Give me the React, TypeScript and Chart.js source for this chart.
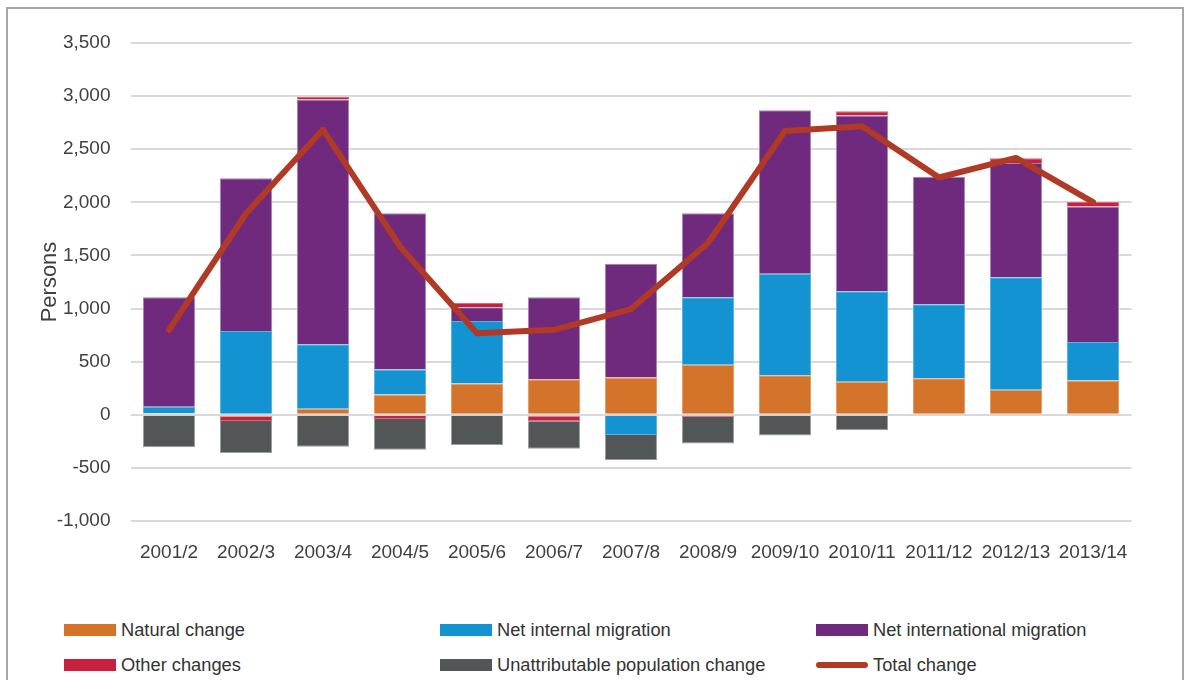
import React, { useEffect, useRef } from "react";
import { Chart, registerables } from "chart.js";

Chart.register(...registerables);

const categories = ["2001/2", "2002/3", "2003/4", "2004/5", "2005/6", "2006/7", "2007/8", "2008/9", "2009/10", "2010/11", "2011/12", "2012/13", "2013/14"];
const naturalChange = [15, -20, 56, 191, 294, 335, 351, 470, 373, 310, 345, 235, 322];
const netInternalMigration = [60, 789, 608, 235, 589, -15, -190, 636, 955, 853, 695, 1059, 364];
const netInternationalMigration = [1031, 1438, 2303, 1472, 129, 771, 1068, 792, 1539, 1654, 1200, 1077, 1275];
const otherChanges = [0, -38, 25, -40, 41, -45, 0, -20, 0, 40, 0, 44, 41];
const unattributableChange = [-305, -302, -300, -290, -285, -260, -236, -250, -195, -145, 0, 0, 0];
const totalChange = [800, 1895, 2685, 1585, 768, 800, 995, 1617, 2672, 2716, 2234, 2418, 2002];
const yTickValues = [-1000, -500, 0, 500, 1000, 1500, 2000, 2500, 3000, 3500];

const FONT = "'Liberation Sans', Arial, sans-serif";
const TEXT = "#404040";

const COLORS = {
  natural: "#D4732A",
  internal: "#1393D1",
  international: "#6F297D",
  other: "#C8203F",
  unattrib: "#525657",
  total: "#B13A26",
};
const BORDERS = {
  natural: "#E59A62",
  internal: "#55B3E0",
  international: "#A783B0",
  other: "#DC6680",
  unattrib: "#9A9D9D",
};

const legendItems = [
  { label: "Natural change", color: COLORS.natural, col: 0, row: 0, line: false },
  { label: "Net internal migration", color: COLORS.internal, col: 1, row: 0, line: false },
  { label: "Net international migration", color: COLORS.international, col: 2, row: 0, line: false },
  { label: "Other changes", color: COLORS.other, col: 0, row: 1, line: false },
  { label: "Unattributable population change", color: COLORS.unattrib, col: 1, row: 1, line: false },
  { label: "Total change", color: COLORS.total, col: 2, row: 1, line: true },
];
const legendCols = [56, 432, 808];
const legendRows = [621, 656];

export default function App() {
  const canvasRef = useRef<HTMLCanvasElement | null>(null);

  useEffect(() => {
    if (!canvasRef.current) return;
    const bar = (label: string, data: number[], key: keyof typeof BORDERS) => ({
      type: "bar" as const,
      label,
      data,
      backgroundColor: COLORS[key],
      borderColor: BORDERS[key],
      borderWidth: 1,
      order: 1,
      barPercentage: 0.675,
      categoryPercentage: 1,
    });
    const chart = new Chart(canvasRef.current, {
      type: "bar",
      data: {
        labels: categories,
        datasets: [
          bar("Natural change", naturalChange, "natural"),
          bar("Net internal migration", netInternalMigration, "internal"),
          bar("Net international migration", netInternationalMigration, "international"),
          bar("Other changes", otherChanges, "other"),
          bar("Unattributable population change", unattributableChange, "unattrib"),
          {
            type: "line" as const,
            label: "Total change",
            data: totalChange,
            borderColor: COLORS.total,
            backgroundColor: COLORS.total,
            borderWidth: 6,
            pointRadius: 0,
            tension: 0,
            borderCapStyle: "round",
            borderJoinStyle: "round",
            order: 0,
            stack: "total",
          } as any,
        ],
      },
      options: {
        animation: false,
        responsive: true,
        maintainAspectRatio: false,
        layout: { padding: { left: 0, right: 50.5, top: 34, bottom: 0 } },
        plugins: { legend: { display: false }, tooltip: { enabled: false } },
        scales: {
          x: {
            stacked: true,
            grid: { display: false, drawTicks: false },
            border: { display: false },
            ticks: { color: TEXT, font: { family: FONT, size: 19 }, padding: 20, maxRotation: 0, autoSkip: false },
            afterFit: (s: any) => { s.height = 50; },
          },
          y: {
            stacked: true,
            min: -1000,
            max: 3500,
            afterBuildTicks: (s: any) => { s.ticks = yTickValues.map((v) => ({ value: v })); },
            grid: { color: "#D9D9D9", lineWidth: 2, drawTicks: false },
            border: { display: false },
            ticks: {
              color: TEXT,
              font: { family: FONT, size: 19 },
              padding: 20,
              callback: (v: any) => Number(v).toLocaleString("en-US"),
            },
            title: {
              display: true,
              text: "Persons",
              color: TEXT,
              font: { family: FONT, size: 22 },
              padding: { top: 29, bottom: 0 },
            },
            afterFit: (s: any) => { s.width = 122.5; },
          },
        },
      },
    });
    return () => chart.destroy();
  }, []);

  return (
    <div
      style={{
        position: "fixed",
        left: 6,
        top: 7,
        width: 1178,
        height: 720,
        border: "2px solid #A6A6A6",
        boxSizing: "border-box",
        background: "#fff",
      }}
    >
      <div style={{ position: "absolute", left: 0, top: 0, width: 1174, height: 562 }}>
        <canvas ref={canvasRef} />
      </div>
      {legendItems.map((it) => (
        <div
          key={it.label}
          style={{
            position: "absolute",
            left: legendCols[it.col],
            top: legendRows[it.row] - 12,
            height: 24,
            display: "flex",
            alignItems: "center",
            fontFamily: FONT,
            fontSize: 18.3,
            color: "#333",
            whiteSpace: "nowrap",
          }}
        >
          <span
            style={{
              display: "inline-block",
              width: 52,
              height: it.line ? 6 : 12,
              borderRadius: it.line ? 3 : 0,
              background: it.color,
              marginRight: 5,
            }}
          />
          <span>{it.label}</span>
        </div>
      ))}
    </div>
  );
}
